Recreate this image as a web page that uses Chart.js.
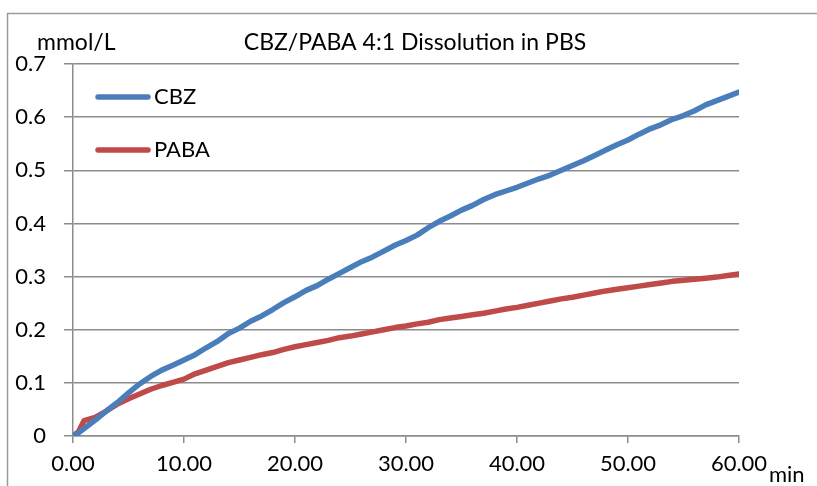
<!DOCTYPE html>
<html>
<head>
<meta charset="utf-8">
<script src="https://cdn.jsdelivr.net/npm/chart.js@4/dist/chart.umd.min.js"></script>
<style>
  html, body { margin: 0; padding: 0; background: #ffffff; }
  #wrap { width: 817px; height: 486px; }
</style>
</head>
<body>
<div id="wrap"><canvas id="c" width="817" height="486"></canvas></div>
<script>
// ---- Data ----
const chartTitle = "CBZ/PABA 4:1 Dissolution in PBS";
const yUnit = "mmol/L";
const xUnit = "min";
const seriesNames = ["CBZ", "PABA"];
const times = [0, 0.5, 1, 2, 3, 4, 5, 6, 7, 8, 9, 10, 11, 12, 13, 14, 15, 16, 17, 18, 19, 20,
  21, 22, 23, 24, 25, 26, 27, 28, 29, 30, 31, 32, 33, 34, 35, 36, 37, 38, 39, 40,
  41, 42, 43, 44, 45, 46, 47, 48, 49, 50, 51, 52, 53, 54, 55, 56, 57, 58, 59, 60];
const cbz = [0.000, 0.006, 0.014, 0.030, 0.047, 0.063, 0.081, 0.098, 0.112, 0.124, 0.133, 0.143,
  0.153, 0.166, 0.178, 0.193, 0.203, 0.216, 0.226, 0.238, 0.251, 0.262,
  0.274, 0.283, 0.295, 0.306, 0.317, 0.328, 0.337, 0.348, 0.359, 0.368,
  0.378, 0.392, 0.404, 0.414, 0.425, 0.434, 0.445, 0.454, 0.461, 0.468,
  0.476, 0.484, 0.491, 0.500, 0.509, 0.518, 0.528, 0.538, 0.548, 0.557,
  0.568, 0.578, 0.586, 0.596, 0.603, 0.612, 0.623, 0.631, 0.639, 0.647];
const paba = [0.000, 0.008, 0.029, 0.035, 0.047, 0.060, 0.070, 0.079, 0.088, 0.095, 0.101, 0.107,
  0.117, 0.124, 0.131, 0.138, 0.143, 0.148, 0.153, 0.157, 0.163, 0.168,
  0.172, 0.176, 0.180, 0.185, 0.188, 0.192, 0.196, 0.200, 0.204, 0.207,
  0.211, 0.214, 0.219, 0.222, 0.225, 0.228, 0.231, 0.235, 0.239, 0.242,
  0.246, 0.250, 0.254, 0.258, 0.261, 0.265, 0.269, 0.273, 0.276, 0.279,
  0.282, 0.285, 0.288, 0.291, 0.293, 0.295, 0.297, 0.299, 0.302, 0.305];
const xTicks = [0, 10, 20, 30, 40, 50, 60];
const yTicks = [0, 0.1, 0.2, 0.3, 0.4, 0.5, 0.6, 0.7];

// ---- Styling ----
const FONT = "Lato, 'Liberation Sans', sans-serif";
const colors = ["#4A7EBB", "#BE4B48"];
const gridGray = "#8c8c8c";

const decor = {
  id: "decor",
  beforeDraw(chart) {
    const ctx = chart.ctx;
    ctx.save();
    ctx.fillStyle = "#ffffff";
    ctx.fillRect(0, 0, chart.width, chart.height);
    ctx.strokeStyle = "#9a9a9a";
    ctx.lineWidth = 1.5;
    ctx.beginPath();
    ctx.moveTo(7.5, chart.height);
    ctx.lineTo(7.5, 13.5);
    ctx.lineTo(chart.width, 13.5);
    ctx.stroke();
    ctx.restore();
  },
  afterDraw(chart) {
    const ctx = chart.ctx;
    ctx.save();
    ctx.fillStyle = "#000000";
    ctx.textBaseline = "middle";
    ctx.font = "23px " + FONT;
    ctx.textAlign = "left";
    ctx.fillText(yUnit, 37, 43);
    ctx.textAlign = "center";
    ctx.fillText(chartTitle, 415, 43);
    ctx.font = "22px " + FONT;
    ctx.textAlign = "left";
    ctx.fillText(xUnit, 769, 475);
    // legend
    const ly = [97, 150];
    chart.data.datasets.forEach((ds, i) => {
      ctx.strokeStyle = ds.borderColor;
      ctx.lineWidth = 5.5;
      ctx.lineCap = "round";
      ctx.beginPath();
      ctx.moveTo(98, ly[i]);
      ctx.lineTo(148, ly[i]);
      ctx.stroke();
      ctx.fillStyle = "#000000";
      ctx.textAlign = "left";
      ctx.fillText(ds.label, 154, ly[i]);
    });
    ctx.restore();
  }
};

new Chart(document.getElementById("c"), {
  type: "line",
  data: {
    datasets: [
      { label: seriesNames[0], data: times.map((t, i) => ({ x: t, y: cbz[i] })),
        borderColor: colors[0], backgroundColor: colors[0], borderWidth: 5.5,
        pointRadius: 0, tension: 0, fill: false, borderCapStyle: "round", borderJoinStyle: "round" },
      { label: seriesNames[1], data: times.map((t, i) => ({ x: t, y: paba[i] })),
        borderColor: colors[1], backgroundColor: colors[1], borderWidth: 5.5,
        pointRadius: 0, tension: 0, fill: false, borderCapStyle: "round", borderJoinStyle: "round" }
    ]
  },
  options: {
    responsive: false,
    devicePixelRatio: 1,
    animation: false,
    layout: { padding: { top: 64, right: 78, left: 0, bottom: 0 } },
    plugins: { legend: { display: false }, title: { display: false }, tooltip: { enabled: false } },
    scales: {
      x: {
        type: "linear", min: 0, max: 60,
        afterBuildTicks(scale) { scale.ticks = xTicks.map(v => ({ value: v })); },
        afterFit(scale) { scale.height = 50; },
        ticks: { color: "#000", font: { family: FONT, size: 22 }, padding: 8,
                 maxRotation: 0, autoSkip: false,
                 callback: v => Number(v).toFixed(2) },
        grid: { drawOnChartArea: false, drawTicks: true, tickLength: 7, color: gridGray, lineWidth: 1.5 },
        border: { color: gridGray, width: 1.5 }
      },
      y: {
        min: 0, max: 0.7,
        afterBuildTicks(scale) { scale.ticks = yTicks.map(v => ({ value: v })); },
        afterFit(scale) { scale.width = 73; },
        ticks: { color: "#000", font: { family: FONT, size: 22 }, padding: 18,
                 callback: v => String(Number(Number(v).toFixed(1))) },
        grid: { color: gridGray, lineWidth: 1.5, tickLength: 9, drawTicks: true },
        border: { color: gridGray, width: 1.5 }
      }
    }
  },
  plugins: [decor]
});
</script>
</body>
</html>
